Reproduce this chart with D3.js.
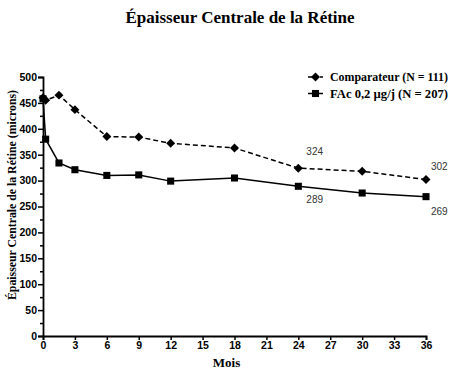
<!DOCTYPE html>
<html>
<head>
<meta charset="utf-8">
<script src="https://cdn.jsdelivr.net/npm/d3@7"></script>
<style>
  body { margin: 0; background: #fff; }
  .tick text { font-family: "Liberation Sans", Arial, sans-serif; font-weight: bold; font-size: 10.5px; }
</style>
</head>
<body>
<div class="chart"></div>
<script>
// months
const months = [0, 0.25, 1.5, 3, 6, 9, 12, 18, 24, 30, 36];
// Comparateur (N = 111)
const comparateur = [460, 455, 465, 437, 385, 384, 372, 363, 324, 318, 302];
// FAc 0,2 µg/j (N = 207)
const fac = [458, 380, 334, 321, 310, 311, 299, 305, 289, 276, 269];
const xTicks = [0, 3, 6, 9, 12, 15, 18, 21, 24, 27, 30, 33, 36];
const yTicks = [0, 50, 100, 150, 200, 250, 300, 350, 400, 450, 500];
const seriesNames = ["Comparateur (N = 111)", "FAc 0,2 \u00b5g/j (N = 207)"];
const annotations = [
  {m: 24, v: 324}, {m: 36, v: 302},
  {m: 24, v: 289}, {m: 36, v: 269}
];

const width = 457, height = 373;
const margin = {top: 77, right: 31, bottom: 37, left: 43};

const svg = d3.select('.chart')
    .append('svg')
    .attr('width', width)
    .attr('height', height);

const x = d3.scaleLinear().domain([0, 36]).range([margin.left, width - margin.right]);
const y = d3.scaleLinear().domain([0, 500]).range([height - margin.bottom, margin.top]);

// title
svg.append('text')
    .attr('x', 240).attr('y', 23)
    .attr('text-anchor', 'middle')
    .style('font-family', '"Liberation Serif", "Times New Roman", serif')
    .style('font-weight', 'bold')
    .style('font-size', '17px')
    .text('Épaisseur Centrale de la Rétine');

// axes
const xAxis = svg.append('g')
    .attr('transform', `translate(0,${height - margin.bottom})`)
    .call(d3.axisBottom(x).tickValues(xTicks).tickSize(4).tickPadding(2));

const yMinor = svg.append('g')
    .attr('transform', `translate(${margin.left},0)`)
    .call(d3.axisLeft(y).tickValues(d3.range(25, 500, 50)).tickSize(3).tickFormat(''));

const yAxis = svg.append('g')
    .attr('transform', `translate(${margin.left},0)`)
    .call(d3.axisLeft(y).tickValues(yTicks).tickSize(5).tickPadding(1));

[xAxis, yAxis, yMinor].forEach(g => {
  g.select('.domain').attr('stroke', '#000').attr('stroke-width', 1.8);
  g.selectAll('.tick line').attr('stroke', '#000').attr('stroke-width', 1.5);
  g.selectAll('.tick text').attr('fill', '#000');
});
yMinor.select('.domain').remove();

// axis labels
svg.append('text')
    .attr('x', x(18) - 8).attr('y', 367)
    .attr('text-anchor', 'middle')
    .style('font-family', '"Liberation Serif", "Times New Roman", serif')
    .style('font-weight', 'bold')
    .style('font-size', '13px')
    .text('Mois');

svg.append('text')
    .attr('transform', 'translate(15.5,195) rotate(-90)')
    .attr('text-anchor', 'middle')
    .attr('textLength', 210)
    .attr('lengthAdjust', 'spacingAndGlyphs')
    .style('font-family', '"Liberation Serif", "Times New Roman", serif')
    .style('font-weight', 'bold')
    .style('font-size', '12.5px')
    .text('Épaisseur Centrale de la Rétine (microns)');

const line = d3.line().x(d => x(d[0])).y(d => y(d[1]));

const compData = months.map((m, i) => [m, comparateur[i]]);
const facData = months.map((m, i) => [m, fac[i]]);

// lines
svg.append('path')
    .datum(compData)
    .attr('d', line)
    .attr('fill', 'none')
    .attr('stroke', '#000')
    .attr('stroke-width', 1.5)
    .attr('stroke-dasharray', '5,3');

svg.append('path')
    .datum(facData)
    .attr('d', line)
    .attr('fill', 'none')
    .attr('stroke', '#000')
    .attr('stroke-width', 1.5);

// markers
const diamond = d3.symbol().type(d3.symbolSquare).size(40);
const square = d3.symbol().type(d3.symbolSquare).size(50);

svg.selectAll('.sq')
    .data(facData)
    .enter()
    .append('path')
    .attr('class', 'sq')
    .attr('d', square)
    .attr('transform', d => `translate(${x(d[0])},${y(d[1])})`)
    .attr('fill', '#000');

svg.selectAll('.dm')
    .data(compData)
    .enter()
    .append('path')
    .attr('class', 'dm')
    .attr('d', diamond)
    .attr('transform', d => `translate(${x(d[0])},${y(d[1])}) rotate(45)`)
    .attr('fill', '#000');

// value labels
const labelOffsets = [
  {dx: 8, dy: -13}, {dx: 5, dy: -10},
  {dx: 8, dy: 17}, {dx: 5, dy: 18}
];
svg.selectAll('.val')
    .data(annotations)
    .enter()
    .append('text')
    .attr('class', 'val')
    .attr('x', (d, i) => x(d.m) + labelOffsets[i].dx)
    .attr('y', (d, i) => y(d.v) + labelOffsets[i].dy)
    .style('font-family', '"Liberation Sans", Arial, sans-serif')
    .style('font-size', '10px')
    .attr('fill', '#333')
    .text(d => d.v);

// legend
const legend = svg.append('g').attr('transform', 'translate(308,77)');
seriesNames.forEach((name, i) => {
  const g = legend.append('g').attr('transform', `translate(0,${i * 16.5})`);
  g.append('line')
      .attr('x1', 0).attr('x2', 15)
      .attr('stroke', '#000').attr('stroke-width', 1.5)
      .attr('stroke-dasharray', i === 0 ? '4,2' : null);
  g.append('path')
      .attr('d', i === 0 ? diamond : square)
      .attr('transform', i === 0 ? 'translate(7.5,0) rotate(45)' : 'translate(7.5,0)')
      .attr('fill', '#000');
  g.append('text')
      .attr('x', 22).attr('y', 4)
      .attr('textLength', 118)
      .attr('lengthAdjust', 'spacingAndGlyphs')
      .style('font-family', '"Liberation Serif", "Times New Roman", serif')
      .style('font-weight', 'bold')
      .style('font-size', '11.5px')
      .text(name);
});
</script>
</body>
</html>
